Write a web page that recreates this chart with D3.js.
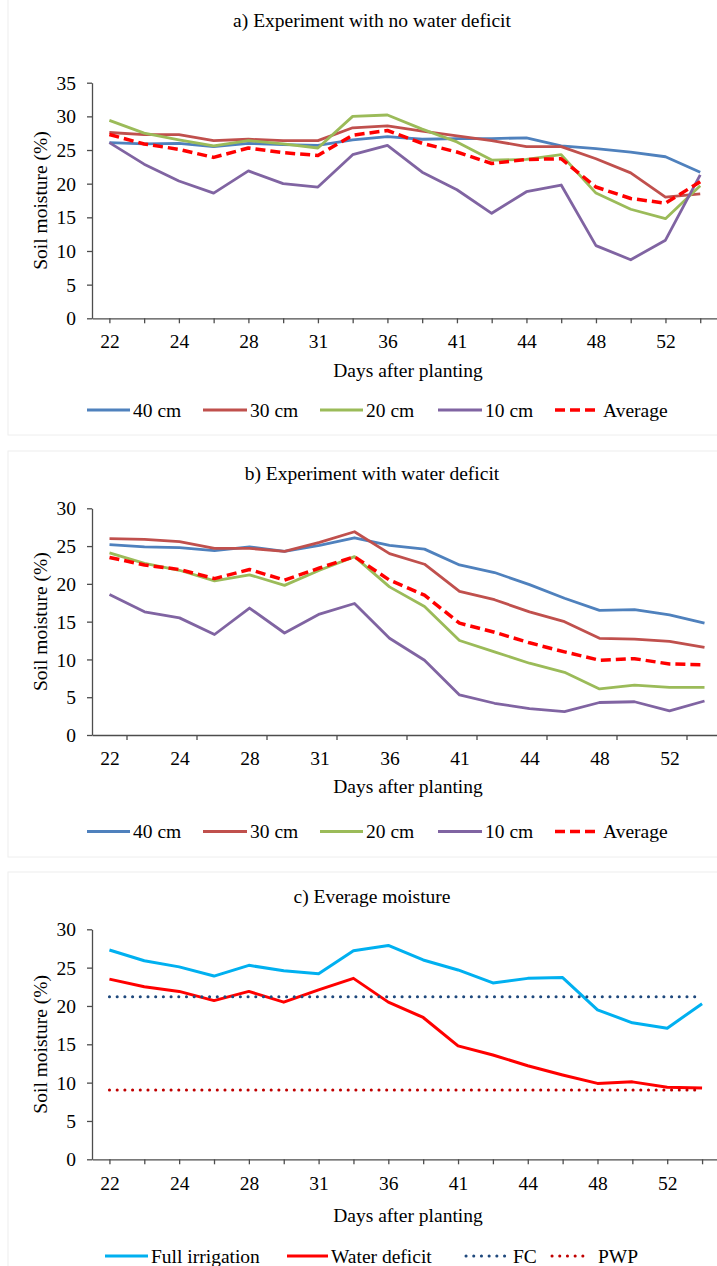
<!DOCTYPE html>
<html>
<head>
<meta charset="utf-8">
<script src="https://cdn.jsdelivr.net/npm/d3@7"></script>
<style>
  body { margin: 0; background: #fff; }
  svg text { font-family: "Liberation Serif", "Times New Roman", serif; fill: #000; }
</style>
</head>
<body>
<div id="chart"></div>
<script>
// days after planting (only every second one carries a label on the axis)
const days = [22, 23, 24, 26, 28, 30, 31, 34, 36, 38, 41, 42, 44, 46, 48, 50, 52, 54];

// a) experiment with no water deficit, soil moisture (%)
const noDef40 = [26.1, 25.9, 26.0, 25.5, 26.0, 25.8, 25.7, 26.5, 27.0, 26.6, 26.7, 26.7, 26.8, 25.6, 25.2, 24.7, 24.0, 21.7];
const noDef30 = [27.6, 27.3, 27.3, 26.4, 26.6, 26.4, 26.4, 28.3, 28.6, 27.8, 27.1, 26.4, 25.5, 25.5, 23.7, 21.6, 18.0, 18.5];
const noDef20 = [29.4, 27.5, 26.5, 25.6, 26.4, 25.9, 25.3, 30.0, 30.2, 28.1, 26.2, 23.5, 23.6, 24.3, 18.6, 16.2, 14.8, 19.7];
const noDef10 = [26.1, 22.9, 20.4, 18.6, 21.9, 20.0, 19.5, 24.3, 25.7, 21.7, 19.1, 15.6, 18.8, 19.8, 10.8, 8.7, 11.6, 21.3];
const noDefAvg = [27.3, 25.9, 25.1, 23.9, 25.3, 24.6, 24.2, 27.2, 27.9, 26.0, 24.7, 23.0, 23.6, 23.7, 19.5, 17.8, 17.1, 20.3];

// b) experiment with water deficit
const def40 = [25.2, 24.9, 24.8, 24.4, 24.9, 24.3, 25.1, 26.1, 25.1, 24.6, 22.5, 21.5, 19.9, 18.1, 16.5, 16.6, 15.9, 14.8];
const def30 = [26.0, 25.9, 25.6, 24.7, 24.7, 24.3, 25.5, 26.9, 24.0, 22.6, 19.0, 17.9, 16.3, 15.0, 12.8, 12.7, 12.4, 11.6];
const def20 = [24.1, 22.7, 21.8, 20.4, 21.2, 19.8, 21.8, 23.6, 19.6, 17.0, 12.5, 11.0, 9.5, 8.3, 6.1, 6.6, 6.3, 6.3];
const def10 = [18.6, 16.3, 15.5, 13.3, 16.8, 13.5, 16.0, 17.4, 12.8, 9.9, 5.3, 4.2, 3.5, 3.1, 4.3, 4.4, 3.2, 4.5];
const defAvg = [23.5, 22.5, 21.9, 20.7, 21.9, 20.5, 22.1, 23.6, 20.5, 18.5, 14.8, 13.6, 12.2, 11.0, 9.9, 10.1, 9.4, 9.3];

// c) average moisture: field capacity and permanent wilting point
const fcLevel = 21.2;
const pwpLevel = 9.05;

const FONT = 19.5;

let svg = d3.select("#chart").append("svg")
    .attr("width", 717)
    .attr("height", 1266);

// panel layout (pixel positions of each chart block)
let panels = [
    {
        title: "a) Experiment with no water deficit", titleY: 27,
        top: 82.7, bottom: 318.3, left: 92, right: 717.6, yMax: 35,
        ticksBetween: false, labelOff: 29.5, xTitleY: 377, legendY: 410,
        box: [8, -5, 730, 440],
        series: [
            {name: "40 cm", values: noDef40, color: "#4F81BD", width: 2.8},
            {name: "30 cm", values: noDef30, color: "#C0504D", width: 2.8},
            {name: "20 cm", values: noDef20, color: "#9BBB59", width: 2.8},
            {name: "10 cm", values: noDef10, color: "#8064A2", width: 2.8},
            {name: "Average", values: noDefAvg, color: "#FF0000", width: 3.5, dash: "10 5"}
        ],
        legend: [[87, 43], [203, 44], [320, 43], [438, 44], [555, 40]]
    },
    {
        title: "b) Experiment with water deficit", titleY: 480,
        top: 508.3, bottom: 735, left: 92, right: 722, yMax: 30,
        ticksBetween: true, labelOff: 30, xTitleY: 793, legendY: 831.5,
        box: [8, 451, 730, 406],
        series: [
            {name: "40 cm", values: def40, color: "#4F81BD", width: 2.8},
            {name: "30 cm", values: def30, color: "#C0504D", width: 2.8},
            {name: "20 cm", values: def20, color: "#9BBB59", width: 2.8},
            {name: "10 cm", values: def10, color: "#8064A2", width: 2.8},
            {name: "Average", values: defAvg, color: "#FF0000", width: 3.5, dash: "10 5"}
        ],
        legend: [[87, 43], [203, 44], [320, 43], [438, 44], [555, 40]]
    },
    {
        title: "c) Everage moisture", titleY: 903,
        top: 929.3, bottom: 1159.3, left: 92, right: 719.5, yMax: 30,
        ticksBetween: false, labelOff: 31, xTitleY: 1222, legendY: 1256,
        box: [8, 872, 730, 410],
        series: [
            {name: "Full irrigation", values: noDefAvg, color: "#00B0F0", width: 3},
            {name: "Water deficit", values: defAvg, color: "#FF0000", width: 3},
            {name: "FC", values: days.map(() => fcLevel), color: "#1F497D", width: 3, dash: "0.1 7.6", cap: "round"},
            {name: "PWP", values: days.map(() => pwpLevel), color: "#C00000", width: 3, dash: "0.1 7.6", cap: "round"}
        ],
        legend: [[105, 43], [287, 41], [466, 39], [552, 38]]
    }
];

panels.forEach(p => drawPanel(p));

function drawPanel(p) {
    let g = svg.append("g");

    // faint frame round the block
    g.append("rect")
        .attr("x", p.box[0]).attr("y", p.box[1])
        .attr("width", p.box[2]).attr("height", p.box[3])
        .attr("fill", "none")
        .attr("stroke", "#eeeeee")
        .attr("stroke-width", 1);

    let x = d3.scalePoint()
        .domain(d3.range(days.length))
        .range([p.left, p.right])
        .padding(0.5);

    let y = d3.scaleLinear()
        .domain([0, p.yMax])
        .range([p.bottom, p.top]);

    // y axis
    let yAxis = g.append("g")
        .attr("transform", `translate(${p.left},0)`)
        .call(d3.axisLeft(y)
            .tickValues(d3.range(0, p.yMax + 1, 5))
            .tickSize(5)
            .tickSizeOuter(0)
            .tickPadding(11));
    yAxis.selectAll("text")
        .attr("font-family", null)
        .style("font-size", FONT + "px")
        .attr("dy", "0.34em");

    // x axis
    let xAxis = g.append("g")
        .attr("transform", `translate(0,${p.bottom})`)
        .call(d3.axisBottom(x)
            .tickSize(p.ticksBetween ? 0 : 5)
            .tickSizeOuter(0)
            .tickFormat(i => i % 2 === 0 ? days[i] : ""));
    xAxis.selectAll("text")
        .attr("font-family", null)
        .style("font-size", FONT + "px")
        .attr("y", p.labelOff)
        .attr("dy", 0);

    if (p.ticksBetween) {
        let evens = d3.range(0, days.length - 1, 2);
        xAxis.selectAll(".midtick")
            .data(evens)
            .enter().append("line")
            .attr("class", "midtick")
            .attr("x1", i => x(i) + x.step() / 2)
            .attr("x2", i => x(i) + x.step() / 2)
            .attr("y1", 0)
            .attr("y2", 5)
            .attr("stroke", "#4d4d4d")
            .attr("stroke-width", 1.3);
    }

    g.selectAll(".domain, .tick line")
        .attr("stroke", "#4d4d4d")
        .attr("stroke-width", 1.3);

    // titles
    g.append("text")
        .attr("x", 372)
        .attr("y", p.titleY)
        .attr("text-anchor", "middle")
        .style("font-size", FONT + "px")
        .text(p.title);

    g.append("text")
        .attr("x", 408)
        .attr("y", p.xTitleY)
        .attr("text-anchor", "middle")
        .style("font-size", FONT + "px")
        .text("Days after planting");

    g.append("text")
        .attr("transform", `translate(47,${(p.top + p.bottom) / 2}) rotate(-90)`)
        .attr("text-anchor", "middle")
        .style("font-size", FONT + "px")
        .text("Soil moisture (%)");

    // series
    let line = d3.line()
        .x((d, i) => x(i))
        .y(d => y(d));

    p.series.forEach(s => {
        g.append("path")
            .datum(s.values)
            .attr("d", line)
            .attr("fill", "none")
            .attr("stroke", s.color)
            .attr("stroke-width", s.width)
            .attr("stroke-dasharray", s.dash || null)
            .attr("stroke-linecap", s.cap || "butt")
            .attr("stroke-linejoin", "round");
    });

    // legend
    p.series.forEach((s, k) => {
        let [lx, len] = p.legend[k];
        g.append("line")
            .attr("x1", lx).attr("x2", lx + len)
            .attr("y1", p.legendY).attr("y2", p.legendY)
            .attr("stroke", s.color)
            .attr("stroke-width", s.width)
            .attr("stroke-dasharray", s.dash || null)
            .attr("stroke-linecap", s.cap || "butt");
        g.append("text")
            .attr("x", lx + len + (s.dash ? 8 : 3))
            .attr("y", p.legendY + 6.5)
            .style("font-size", FONT + "px")
            .text(s.name);
    });
}
</script>
</body>
</html>
